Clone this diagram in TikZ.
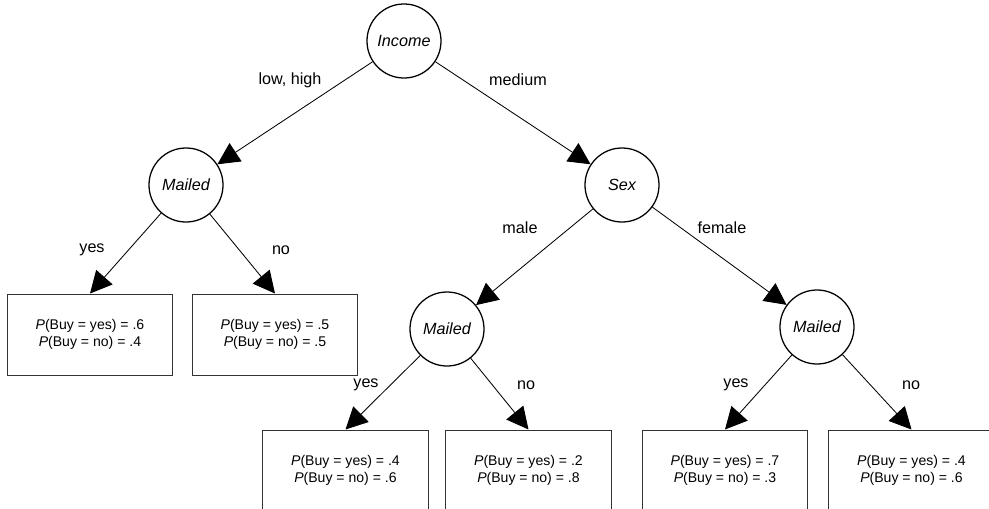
\documentclass[tikz,border=0pt]{standalone}
\usepackage{fontspec}
\setmainfont{Liberation Sans}
\usetikzlibrary{arrows.meta}
\begin{document}
\begin{tikzpicture}[x=0.025cm, y=-0.025cm, >={Triangle[length=15.5pt,width=15.5pt]},
  var/.style={draw, circle, line width=0.9pt, minimum size=1.85cm, inner sep=0pt,
    font=\fontsize{11.5}{14}\selectfont\itshape},
  leaf/.style={draw=black!80, line width=0.7pt, minimum width=4.125cm, minimum height=2.025cm,
    align=center, font=\fontsize{10}{12}\selectfont},
  lbl/.style={font=\fontsize{11.5}{14}\selectfont},
  edge/.style={->, line width=0.6pt}]
\useasboundingbox (0,0) rectangle (989,508);
\clip (0,0) rectangle (989,508);
% variables
\node[var] (income) at (404,41) {Income};
\node[var] (mailedA) at (186,185) {Mailed};
\node[var] (sex) at (622,185) {Sex};
\node[var] (mailedB) at (447,329) {Mailed};
\node[var] (mailedC) at (817,327) {Mailed};
% leaves
\node[leaf] (leafA) at (90,334.5) {\textit{P}(Buy = yes) = .6\\\textit{P}(Buy = no) = .4};
\node[leaf] (leafB) at (275,334.5) {\textit{P}(Buy = yes) = .5\\\textit{P}(Buy = no) = .5};
\node[leaf] (leafC) at (345.5,470.5) {\textit{P}(Buy = yes) = .4\\\textit{P}(Buy = no) = .6};
\node[leaf] (leafD) at (528.5,470.5) {\textit{P}(Buy = yes) = .2\\\textit{P}(Buy = no) = .8};
\node[leaf] (leafE) at (725,470.5) {\textit{P}(Buy = yes) = .7\\\textit{P}(Buy = no) = .3};
\node[leaf] (leafF) at (911.5,470.5) {\textit{P}(Buy = yes) = .4\\\textit{P}(Buy = no) = .6};
% branches
\draw[edge] (income) -- (mailedA);
\draw[edge] (income) -- (sex);
\draw[edge] (mailedA) -- (leafA.north);
\draw[edge] (mailedA) -- (leafB.north);
\draw[edge] (sex) -- (mailedB);
\draw[edge] (sex) -- (mailedC);
\draw[edge] (mailedB) -- (leafC.north);
\draw[edge] (mailedB) -- (leafD.north);
\draw[edge] (mailedC) -- (leafE.north);
\draw[edge] (mailedC) -- (leafF.north);
% branch values
\node[lbl] (lowhigh) at (290,80) {low, high};
\node[lbl] (medium) at (518,80) {medium};
\node[lbl] (yesA) at (92,250) {yes};
\node[lbl] (noA) at (281,250) {no};
\node[lbl] (male) at (520,228) {male};
\node[lbl] (female) at (722,228) {female};
\node[lbl] (yesB) at (366,385) {yes};
\node[lbl] (noB) at (526,385) {no};
\node[lbl] (yesC) at (736,385) {yes};
\node[lbl] (noC) at (911,385) {no};
\end{tikzpicture}
\end{document}
